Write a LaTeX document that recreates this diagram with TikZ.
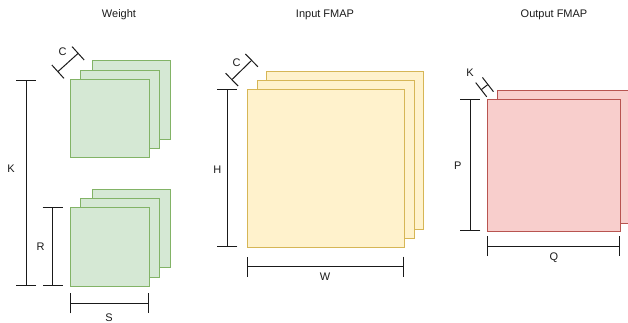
\documentclass[tikz,border=0pt]{standalone}
\usepackage{fontspec}
\setmainfont{Liberation Sans}
\usetikzlibrary{arrows.meta}
\definecolor{gfill}{HTML}{D5E8D4}
\definecolor{gdraw}{HTML}{82B366}
\definecolor{yfill}{HTML}{FFF2CC}
\definecolor{ydraw}{HTML}{D6B656}
\definecolor{rfill}{HTML}{F8CECC}
\definecolor{rdraw}{HTML}{B85450}
\definecolor{dimc}{HTML}{1A1A1A}
\tikzset{
  sq/.style={rectangle, anchor=north west, inner sep=0pt, line width=1pt},
  wsq/.style={sq, fill=gfill, draw=gdraw, minimum width=78.5pt, minimum height=78.5pt},
  isq/.style={sq, fill=yfill, draw=ydraw, minimum width=157.5pt, minimum height=157.5pt},
  osq/.style={sq, fill=rfill, draw=rdraw, minimum width=133pt, minimum height=132.6pt},
  dimline/.style={draw=dimc, line width=1pt, {Bar[width=20pt,line width=1pt]}-{Bar[width=20pt,line width=1pt]}},
  dimdiag/.style={draw=dimc, line width=1pt, {Bar[width=18pt,line width=1pt]}-{Bar[width=18pt,line width=1pt]}},
  lbl/.style={inner sep=0pt, font=\fontsize{11}{13}\selectfont, text=dimc},
}
\begin{document}
\begin{tikzpicture}[x=1pt,y=-1pt]
\useasboundingbox (0,0) rectangle (628,323);
\clip (0,0) rectangle (628,323);
% titles
\node[lbl] (tw) at (119,14.5) {Weight};
\node[lbl] (ti) at (325,14.5) {Input FMAP};
\node[lbl] (to) at (554,14.5) {Output FMAP};
% weight top stack
\node[wsq] (wa3) at (91.5,60.5) {};
\node[wsq] (wa2) at (80,70) {};
\node[wsq] (wa1) at (70,79) {};
% weight bottom stack
\node[wsq] (wb3) at (91.5,188.5) {};
\node[wsq] (wb2) at (80,198) {};
\node[wsq] (wb1) at (70,207) {};
% input stack
\node[isq] (i3) at (265.7,71) {};
\node[isq] (i2) at (256.7,80) {};
\node[isq] (i1) at (246.7,89.3) {};
% output stack
\node[osq] (o2) at (496.7,90) {};
\node[osq] (o1) at (487.3,98.7) {};
% dimension coordinates
\coordinate (kt) at (26,80);
\coordinate (kb) at (26,285.5);
\coordinate (rt) at (52.5,207.3);
\coordinate (rb) at (52.5,285.5);
\coordinate (sl) at (70,303.3);
\coordinate (sr) at (148.5,303.3);
\coordinate (wc1) at (57.5,72);
\coordinate (wc2) at (78.5,53);
\coordinate (ht) at (227.3,89.3);
\coordinate (hb) at (227.3,247);
\coordinate (wl) at (246.7,266.7);
\coordinate (wr) at (404.2,266.7);
\coordinate (ic1) at (231.5,80);
\coordinate (ic2) at (252,60);
\coordinate (pt) at (470.3,98.7);
\coordinate (pb) at (470.3,231.3);
\coordinate (ql) at (487.3,246);
\coordinate (qr) at (620.3,246);
\coordinate (ok1) at (480.8,90);
\coordinate (ok2) at (488.3,84.2);
% dimension lines
\draw[dimline] (kt) -- (kb);
\draw[dimline] (rt) -- (rb);
\draw[dimline] (sl) -- (sr);
\draw[dimdiag] (wc1) -- (wc2);
\draw[dimline] (ht) -- (hb);
\draw[dimline] (wl) -- (wr);
\draw[dimdiag] (ic1) -- (ic2);
\draw[dimline] (pt) -- (pb);
\draw[dimline] (ql) -- (qr);
\draw[dimdiag] (ok1) -- (ok2);
% labels
\node[lbl] (lk) at (11,169) {K};
\node[lbl] (lr) at (40.7,247) {R};
\node[lbl] (ls) at (109,318) {S};
\node[lbl] (lc1) at (62.5,52) {C};
\node[lbl] (lh) at (217.3,169.3) {H};
\node[lbl] (lw) at (325,276.7) {W};
\node[lbl] (lc2) at (236.7,62.5) {C};
\node[lbl] (lp) at (457.7,165.7) {P};
\node[lbl] (lq) at (554,257.3) {Q};
\node[lbl] (lk2) at (470,72.7) {K};
\end{tikzpicture}
\end{document}
